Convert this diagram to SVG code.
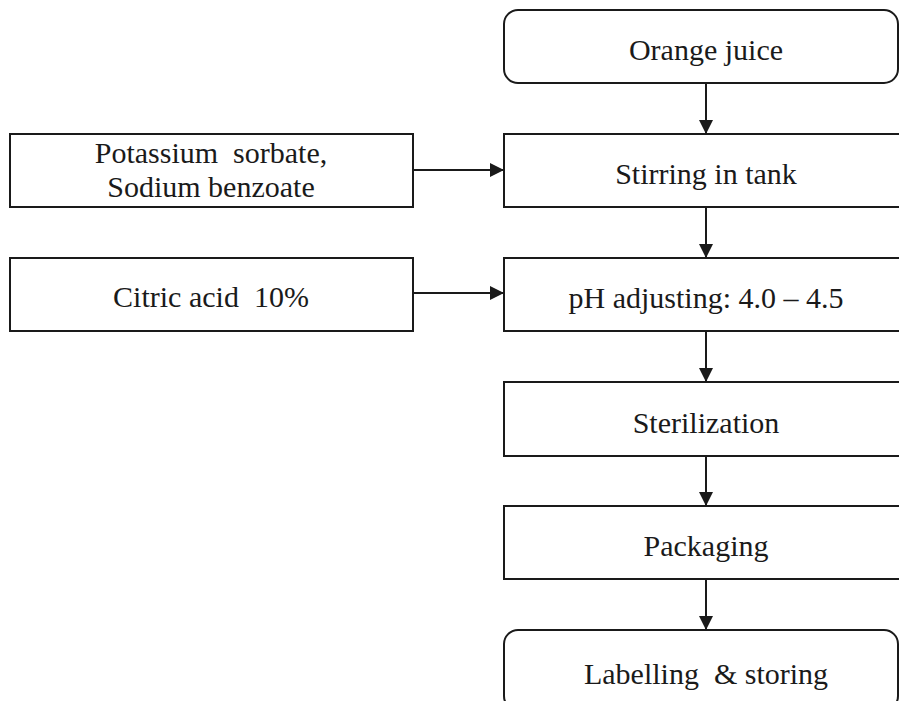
<svg xmlns="http://www.w3.org/2000/svg" width="899" height="701" viewBox="0 0 899 701">
<style>
.box{fill:#fff;stroke:#1a1a1a;stroke-width:2}
.lbl{font-family:"Liberation Serif","Times New Roman",serif;font-size:30px;fill:#1a1a1a;text-anchor:middle;white-space:pre}
.conn{stroke:#1a1a1a;stroke-width:2;fill:none}
</style>
<defs>
<marker id="ah" viewBox="0 0 14 14" refX="14" refY="7" markerWidth="14" markerHeight="14" markerUnits="userSpaceOnUse" orient="auto">
<path d="M0,0 L14,7 L0,14 Z" fill="#1a1a1a"/>
</marker>
</defs>
<rect width="899" height="701" fill="#fff"/>
<g id="orange-juice"><rect class="box" x="504" y="10" width="394" height="73" rx="14"/><text class="lbl" x="706" y="60">Orange juice</text></g>
<g id="stirring"><rect class="box" x="504" y="134" width="404" height="73"/><text class="lbl" x="706" y="184">Stirring in tank</text></g>
<g id="ph"><rect class="box" x="504" y="258" width="404" height="73"/><text class="lbl" x="706" y="308">pH adjusting: 4.0 – 4.5</text></g>
<g id="sterilization"><rect class="box" x="504" y="382" width="404" height="74"/><text class="lbl" x="706" y="433">Sterilization</text></g>
<g id="packaging"><rect class="box" x="504" y="506" width="404" height="73"/><text class="lbl" x="706" y="556">Packaging</text></g>
<g id="labelling"><rect class="box" x="504" y="630" width="394" height="80" rx="14"/><text class="lbl" x="706" y="684">Labelling  &amp; storing</text></g>
<g id="preservatives"><rect class="box" x="10" y="134" width="403" height="73"/><text class="lbl" x="211" y="163">Potassium  sorbate,</text><text class="lbl" x="211" y="197">Sodium benzoate</text></g>
<g id="citric"><rect class="box" x="10" y="258" width="403" height="73"/><text class="lbl" x="211" y="307">Citric acid  10%</text></g>
<g id="connectors">
<line class="conn" x1="706" y1="83" x2="706" y2="134" marker-end="url(#ah)"/>
<line class="conn" x1="706" y1="207" x2="706" y2="258" marker-end="url(#ah)"/>
<line class="conn" x1="706" y1="331" x2="706" y2="382" marker-end="url(#ah)"/>
<line class="conn" x1="706" y1="456" x2="706" y2="506" marker-end="url(#ah)"/>
<line class="conn" x1="706" y1="579" x2="706" y2="630" marker-end="url(#ah)"/>
<line class="conn" x1="413" y1="170" x2="504" y2="170" marker-end="url(#ah)"/>
<line class="conn" x1="413" y1="293" x2="504" y2="293" marker-end="url(#ah)"/>
</g>
</svg>
